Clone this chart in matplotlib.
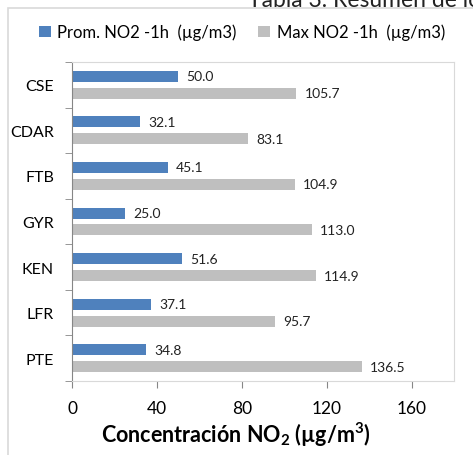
import numpy as np
import matplotlib
matplotlib.use("Agg")
import matplotlib.pyplot as plt
from matplotlib.patches import Rectangle

plt.rcParams['font.family'] = ['Lato', 'DejaVu Sans']
plt.rcParams['mathtext.default'] = 'regular'

stations = ['CSE', 'CDAR', 'FTB', 'GYR', 'KEN', 'LFR', 'PTE']
prom_no2 = [50.0, 32.1, 45.1, 25.0, 51.6, 37.1, 34.8]
max_no2 = [105.7, 83.1, 104.9, 113.0, 114.9, 95.7, 136.5]
x_ticks = [0, 40, 80, 120, 160]

blue = '#4F81BD'
grey = '#BFBFBF'
frame = '#D9D9D9'
axis_col = '#868686'

W, H = 473, 456
fig = plt.figure(figsize=(W / 100, H / 100), dpi=100)
ax = fig.add_axes([72 / W, (H - 382) / H, (454 - 72) / W, (382 - 63) / H])

y = np.arange(len(stations))
bh = 0.24
off = 0.185
b1 = ax.barh(y - off, prom_no2, height=bh, color=blue, label='Prom. NO2 -1h  (µg/m3)')
b2 = ax.barh(y + off, max_no2, height=bh, color=grey, label='Max NO2 -1h  (µg/m3)')

ax.bar_label(b1, fmt='%.1f', padding=6, fontsize=10, color='#222222')
ax.bar_label(b2, fmt='%.1f', padding=6, fontsize=10, color='#222222')

ax.set_xlim(0, 180)
ax.set_ylim(len(stations) - 0.5, -0.5)
ax.set_xticks(x_ticks)
ax.set_xticklabels([str(t) for t in x_ticks], fontsize=12.5)
ax.set_yticks(y)
ax.set_yticklabels(stations, fontsize=11.5)
ax.tick_params(axis='y', length=0, pad=13)
ax.set_yticks(np.arange(len(stations) + 1) - 0.5, minor=True)
ax.tick_params(axis='y', which='minor', length=5, color=axis_col, direction='out')
ax.tick_params(axis='x', length=5, color=axis_col, direction='out', pad=9)

for s in ['top', 'right']:
    ax.spines[s].set_color(frame)
ax.spines['left'].set_color(axis_col)
ax.spines['bottom'].set_color(frame)

ax.set_xlabel(r'Concentración NO$_2$ (µg/m$^3$)', fontsize=15.5, fontweight='bold')
ax.xaxis.set_label_coords((236 - 72) / (454 - 72), -(443 - 382) / (382 - 63), transform=ax.transAxes)
ax.xaxis.label.set_va('baseline')

fig.legend(handles=[b1, b2], loc='center', bbox_to_anchor=(242 / W, (H - 33) / H),
           ncol=2, frameon=False, fontsize=12, handlelength=0.7, handleheight=0.7,
           handletextpad=0.4, columnspacing=1.3)

# chart area border (only top and left edges are inside the picture)
fig.add_artist(Rectangle((7.5 / W, -0.2), 1.2, (H - 8.5) / H + 0.2, transform=fig.transFigure,
                         fill=False, edgecolor=frame, linewidth=1.2))

# page title cut off by the top edge
fig.text(248 / W, (H - 7) / H, 'Tabla 3. Resumen de los datos', fontsize=16.5,
         va='baseline', ha='left', color='#222222')

fig.savefig('out.png', dpi=100)
